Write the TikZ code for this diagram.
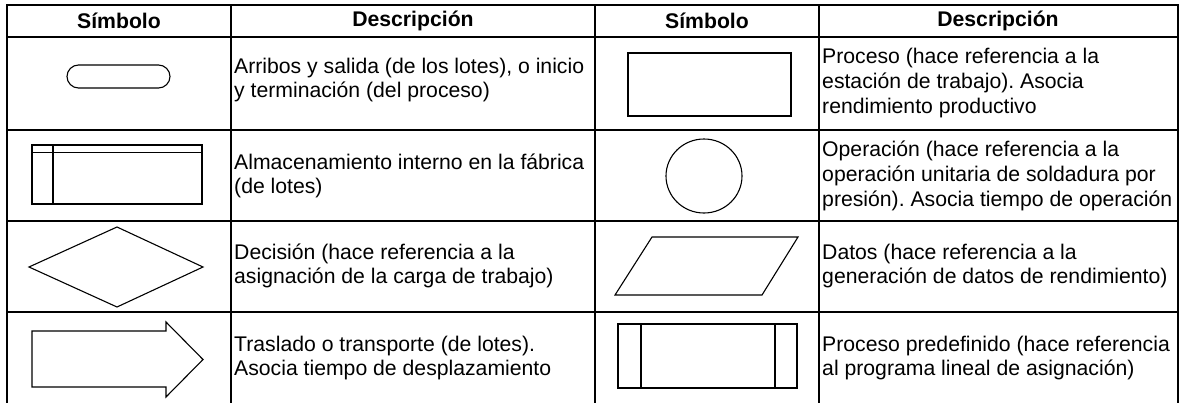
\documentclass[tikz,border=0pt]{standalone}
\usepackage{fontspec}
\setmainfont{Liberation Sans}
\frenchspacing
\begin{document}
\begin{tikzpicture}[x=1pt,y=-1pt,
  gridline/.style={line width=2.6pt, line cap=rect},
  sym/.style={draw, line width=1.1pt, line join=miter},
  desc/.style={anchor=west, align=left, inner sep=0pt, font=\fontsize{21.2}{24.7}\selectfont},
  head/.style={inner sep=0pt, font=\fontsize{21.2}{24.7}\selectfont\bfseries}]
\useasboundingbox (0,0) rectangle (1182,402);
% table grid
\draw[gridline] (7,402) -- (7,5) -- (1178,5) -- (1178,402);
\draw[gridline] (231,5) -- (231,402);
\draw[gridline] (595,5) -- (595,402);
\draw[gridline] (819,5) -- (819,402);
\draw[gridline] (7,37) -- (1178,37);
\draw[gridline] (7,130) -- (1178,130);
\draw[gridline] (7,221) -- (1178,221);
\draw[gridline] (7,312) -- (1178,312);
% headers
\node[head] (h1) at (119,21) {Símbolo};
\node[head] (h2) at (413,21) {Descripción};
\node[head] (h3) at (707,21) {Símbolo};
\node[head] (h4) at (998,21) {Descripción};
% symbols column 1
\draw[sym, rounded corners=11.5pt] (67,65) rectangle (170,88);
\draw[sym] (32,145) rectangle (202,204);
\draw[sym] (32,152.7) -- (202,152.7);
\draw[sym] (53,145) -- (53,204);
\draw[sym] (29,267) -- (117,227) -- (203,267) -- (117,307) -- cycle;
\draw[sym] (32,331) -- (166,331) -- (166,322) -- (203,359.5) -- (166,397) -- (166,387) -- (32,387) -- cycle;
% symbols column 3
\draw[sym] (628,53) rectangle (791,116);
\draw[sym] (704,176) ellipse (38 and 37);
\draw[sym] (652,237) -- (798,237) -- (762,295) -- (615,295) -- cycle;
\draw[sym] (618,324) rectangle (797,388);
\draw[sym] (641,324) -- (641,388);
\draw[sym] (775,324) -- (775,388);
% descriptions
\node[desc] (d1) at (234,80) {Arribos y salida (de los lotes), o inicio\\y terminación (del proceso)};
\node[desc] (d2) at (234,176) {Almacenamiento interno en la fábrica\\(de lotes)};
\node[desc] (d3) at (234,266) {Decisión (hace referencia a la\\asignación de la carga de trabajo)};
\node[desc] (d4) at (234,358) {Traslado o transporte (de lotes).\\Asocia tiempo de desplazamiento};
\node[desc] (d5) at (822,83) {Proceso (hace referencia a la\\estación de trabajo). Asocia\\rendimiento productivo};
\node[desc] (d6) at (822,176) {Operación (hace referencia a la\\operación unitaria de soldadura por\\presión). Asocia tiempo de operación};
\node[desc] (d7) at (822,266) {Datos (hace referencia a la\\generación de datos de rendimiento)};
\node[desc] (d8) at (822,358) {Proceso predefinido (hace referencia\\al programa lineal de asignación)};
\end{tikzpicture}
\end{document}
